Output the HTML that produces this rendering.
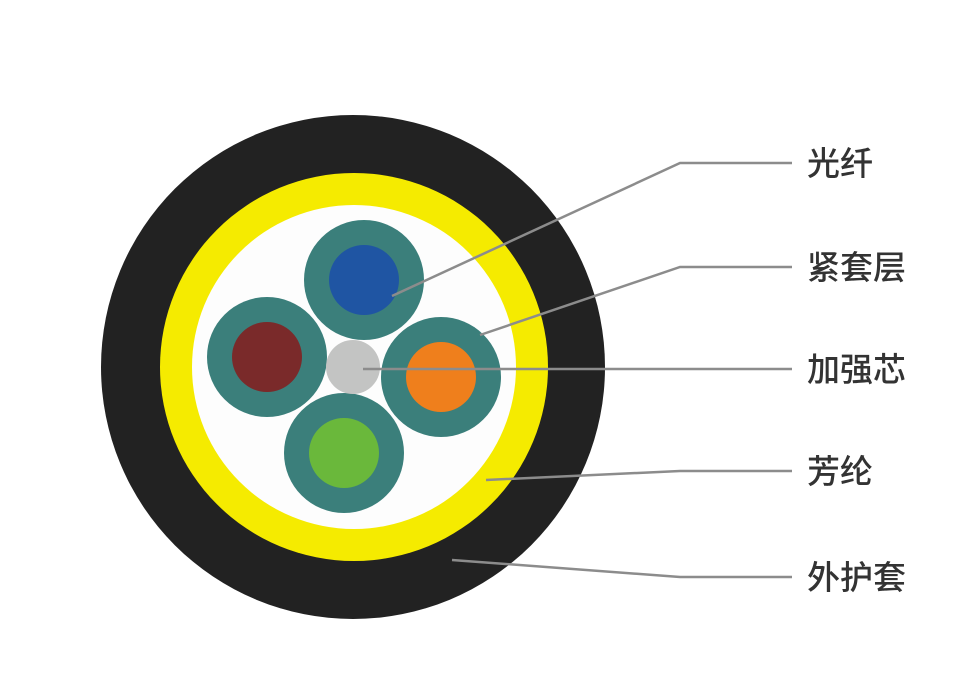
<!DOCTYPE html>
<html><head><meta charset="utf-8"><style>
html,body{margin:0;padding:0;background:#fff;width:957px;height:688px;overflow:hidden}
text{font-family:"Liberation Sans","Noto Sans CJK SC",sans-serif;font-size:33px;font-weight:500;fill:#333}
</style></head><body>
<svg width="957" height="688" viewBox="0 0 957 688">
<circle cx="353" cy="367" r="252" fill="#222"/>
<circle cx="354" cy="367" r="194" fill="#f5eb00"/>
<circle cx="354" cy="367" r="162" fill="#fdfdfd"/>
<circle cx="364" cy="280" r="60" fill="#3b7f7b"/>
<circle cx="364" cy="280" r="35" fill="#1f55a3"/>
<circle cx="267" cy="357" r="60" fill="#3b7f7b"/>
<circle cx="267" cy="357" r="35" fill="#7a2a2a"/>
<circle cx="441" cy="377" r="60" fill="#3b7f7b"/>
<circle cx="441" cy="377" r="35" fill="#ef7f1c"/>
<circle cx="344" cy="453" r="60" fill="#3b7f7b"/>
<circle cx="344" cy="453" r="35" fill="#6ab83b"/>
<circle cx="353" cy="367" r="27" fill="#c3c4c3"/>
<g stroke="#8c8c8c" stroke-width="2.5" fill="none">
<polyline points="392,296 680,163 792,163"/>
<polyline points="480,335 680,267 792,267"/>
<polyline points="363,369 792,369"/>
<polyline points="486,480 680,471 792,471"/>
<polyline points="452,560 680,577 792,577"/>
</g>
<text x="807" y="175">光纤</text>
<text x="807" y="279">紧套层</text>
<text x="807" y="381">加强芯</text>
<text x="807" y="483">芳纶</text>
<text x="807" y="589">外护套</text>
</svg>
</body></html>
